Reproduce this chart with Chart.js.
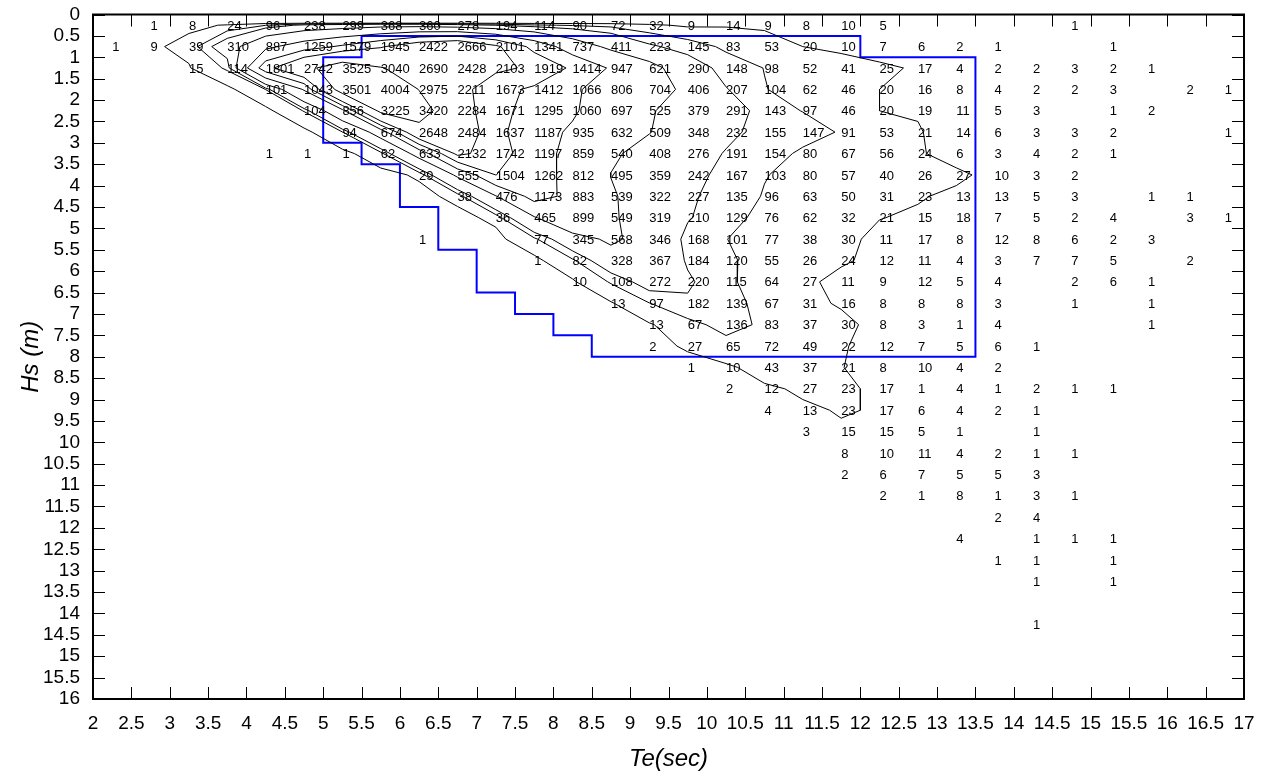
<!DOCTYPE html>
<html>
<head>
<meta charset="utf-8">
<script src="https://cdn.jsdelivr.net/npm/chart.js@4.4.1/dist/chart.umd.min.js"></script>
<style>
  html, body { margin: 0; padding: 0; background: #fff; }
  #wrap { width: 1264px; height: 776px; position: relative; }
</style>
</head>
<body>
<div id="wrap"><canvas id="scatterDiagram"></canvas></div>
<script>
// Energy period classes (Te, s): centre of each 0.5 s bin
const teCentres = [2.25, 2.75, 3.25, 3.75, 4.25, 4.75, 5.25, 5.75, 6.25, 6.75,
                   7.25, 7.75, 8.25, 8.75, 9.25, 9.75, 10.25, 10.75, 11.25, 11.75,
                   12.25, 12.75, 13.25, 13.75, 14.25, 14.75, 15.25, 15.75, 16.25, 16.75];

// Significant wave height classes (Hs, m): centre of each 0.5 m bin
const hsCentres = [0.25, 0.75, 1.25, 1.75, 2.25, 2.75, 3.25, 3.75, 4.25, 4.75,
                   5.25, 5.75, 6.25, 6.75, 7.25, 7.75, 8.25, 8.75, 9.25, 9.75,
                   10.25, 10.75, 11.25, 11.75, 12.25, 12.75, 13.25, 13.75, 14.25];

// Number of sea states per (Hs, Te) bin; one row per Hs class, 0 = no occurrence
const counts = [
  [0,1,8,24,96,238,299,368,360,278, 194,114,90,72,32,9,14,9,8,10, 5,0,0,0,0,1,0,0,0,0],
  [1,9,39,310,887,1259,1579,1945,2422,2666, 2101,1341,737,411,223,145,83,53,20,10, 7,6,2,1,0,0,1,0,0,0],
  [0,0,15,114,1801,2742,3525,3040,2690,2428, 2103,1919,1414,947,621,290,148,98,52,41, 25,17,4,2,2,3,2,1,0,0],
  [0,0,0,0,101,1043,3501,4004,2975,2211, 1673,1412,1066,806,704,406,207,104,62,46, 20,16,8,4,2,2,3,0,2,1],
  [0,0,0,0,0,104,856,3225,3420,2284, 1671,1295,1060,697,525,379,291,143,97,46, 20,19,11,5,3,0,1,2,0,0],
  [0,0,0,0,0,0,94,674,2648,2484, 1637,1187,935,632,509,348,232,155,147,91, 53,21,14,6,3,3,2,0,0,1],
  [0,0,0,0,1,1,1,62,633,2132, 1742,1197,859,540,408,276,191,154,80,67, 56,24,6,3,4,2,1,0,0,0],
  [0,0,0,0,0,0,0,0,29,555, 1504,1262,812,495,359,242,167,103,80,57, 40,26,27,10,3,2,0,0,0,0],
  [0,0,0,0,0,0,0,0,0,38, 476,1173,883,539,322,227,135,96,63,50, 31,23,13,13,5,3,0,1,1,0],
  [0,0,0,0,0,0,0,0,0,0, 36,465,899,549,319,210,129,76,62,32, 21,15,18,7,5,2,4,0,3,1],
  [0,0,0,0,0,0,0,0,1,0, 0,77,345,568,346,168,101,77,38,30, 11,17,8,12,8,6,2,3,0,0],
  [0,0,0,0,0,0,0,0,0,0, 0,1,82,328,367,184,120,55,26,24, 12,11,4,3,7,7,5,0,2,0],
  [0,0,0,0,0,0,0,0,0,0, 0,0,10,108,272,220,115,64,27,11, 9,12,5,4,0,2,6,1,0,0],
  [0,0,0,0,0,0,0,0,0,0, 0,0,0,13,97,182,139,67,31,16, 8,8,8,3,0,1,0,1,0,0],
  [0,0,0,0,0,0,0,0,0,0, 0,0,0,0,13,67,136,83,37,30, 8,3,1,4,0,0,0,1,0,0],
  [0,0,0,0,0,0,0,0,0,0, 0,0,0,0,2,27,65,72,49,22, 12,7,5,6,1,0,0,0,0,0],
  [0,0,0,0,0,0,0,0,0,0, 0,0,0,0,0,1,10,43,37,21, 8,10,4,2,0,0,0,0,0,0],
  [0,0,0,0,0,0,0,0,0,0, 0,0,0,0,0,0,2,12,27,23, 17,1,4,1,2,1,1,0,0,0],
  [0,0,0,0,0,0,0,0,0,0, 0,0,0,0,0,0,0,4,13,23, 17,6,4,2,1,0,0,0,0,0],
  [0,0,0,0,0,0,0,0,0,0, 0,0,0,0,0,0,0,0,3,15, 15,5,1,0,1,0,0,0,0,0],
  [0,0,0,0,0,0,0,0,0,0, 0,0,0,0,0,0,0,0,0,8, 10,11,4,2,1,1,0,0,0,0],
  [0,0,0,0,0,0,0,0,0,0, 0,0,0,0,0,0,0,0,0,2, 6,7,5,5,3,0,0,0,0,0],
  [0,0,0,0,0,0,0,0,0,0, 0,0,0,0,0,0,0,0,0,0, 2,1,8,1,3,1,0,0,0,0],
  [0,0,0,0,0,0,0,0,0,0, 0,0,0,0,0,0,0,0,0,0, 0,0,0,2,4,0,0,0,0,0],
  [0,0,0,0,0,0,0,0,0,0, 0,0,0,0,0,0,0,0,0,0, 0,0,4,0,1,1,1,0,0,0],
  [0,0,0,0,0,0,0,0,0,0, 0,0,0,0,0,0,0,0,0,0, 0,0,0,1,1,0,1,0,0,0],
  [0,0,0,0,0,0,0,0,0,0, 0,0,0,0,0,0,0,0,0,0, 0,0,0,0,1,0,1,0,0,0],
  [0,0,0,0,0,0,0,0,0,0, 0,0,0,0,0,0,0,0,0,0, 0,0,0,0,0,0,0,0,0,0],
  [0,0,0,0,0,0,0,0,0,0, 0,0,0,0,0,0,0,0,0,0, 0,0,0,0,1,0,0,0,0,0]
];

// Iso-occurrence levels traced over the table
const contourLevels = [20, 100, 200, 500, 1000, 1500, 2000, 3000];

// Selected design region (Te, Hs corners of the outline)
const boundaryTe = [5.5, 12, 12, 13.5, 13.5, 8.5, 8.5, 8, 8, 7.5, 7.5, 7, 7, 6.5, 6.5, 6, 6, 5.5, 5.5, 5, 5, 5.5, 5.5];
const boundaryHs = [0.5, 0.5, 1, 1, 8, 8, 7.5, 7.5, 7, 7, 6.5, 6.5, 5.5, 5.5, 4.5, 4.5, 3.5, 3.5, 3, 3, 1, 1, 0.5];

// Axis ranges
const teRange = [2, 17];
const hsRange = [0, 16];
const tickStep = 0.5;

const FONT = "'Liberation Sans', Arial, Helvetica, sans-serif";
const tickText = (v) => String(Math.round(v * 10) / 10);

// ---- marching squares over the bin centres ----
function traceContours(level) {
  // a zero row just above the first Hs class closes the contours along the top edge
  const ys = [hsCentres[0] - 0.05].concat(hsCentres);
  const grid = [teCentres.map(() => 0)].concat(counts);
  const nr = grid.length, nc = teCentres.length;
  const segs = [];
  const frac = (va, vb) => (level - va) / (vb - va);
  for (let r = 0; r < nr - 1; r++) {
    for (let c = 0; c < nc - 1; c++) {
      const tl = grid[r][c], tr = grid[r][c + 1], br = grid[r + 1][c + 1], bl = grid[r + 1][c];
      const idx = (tl >= level ? 8 : 0) | (tr >= level ? 4 : 0) | (br >= level ? 2 : 0) | (bl >= level ? 1 : 0);
      if (idx === 0 || idx === 15) continue;
      const x0 = teCentres[c], x1 = teCentres[c + 1], y0 = ys[r], y1 = ys[r + 1];
      const T = () => ({ key: 'h' + r + '_' + c, x: x0 + (x1 - x0) * frac(tl, tr), y: y0 });
      const B = () => ({ key: 'h' + (r + 1) + '_' + c, x: x0 + (x1 - x0) * frac(bl, br), y: y1 });
      const L = () => ({ key: 'v' + r + '_' + c, x: x0, y: y0 + (y1 - y0) * frac(tl, bl) });
      const R = () => ({ key: 'v' + r + '_' + (c + 1), x: x1, y: y0 + (y1 - y0) * frac(tr, br) });
      const centreHigh = (tl + tr + br + bl) / 4 >= level;
      switch (idx) {
        case 1: case 14: segs.push([L(), B()]); break;
        case 2: case 13: segs.push([B(), R()]); break;
        case 3: case 12: segs.push([L(), R()]); break;
        case 4: case 11: segs.push([T(), R()]); break;
        case 6: case 9: segs.push([T(), B()]); break;
        case 7: case 8: segs.push([L(), T()]); break;
        case 5:
          if (centreHigh) { segs.push([L(), T()]); segs.push([B(), R()]); }
          else { segs.push([T(), R()]); segs.push([L(), B()]); }
          break;
        case 10:
          if (centreHigh) { segs.push([T(), R()]); segs.push([L(), B()]); }
          else { segs.push([L(), T()]); segs.push([B(), R()]); }
          break;
      }
    }
  }
  // join the cell segments into polylines through shared edge crossings
  const byKey = new Map();
  segs.forEach((s, i) => s.forEach(p => {
    if (!byKey.has(p.key)) byKey.set(p.key, []);
    byKey.get(p.key).push(i);
  }));
  const used = new Array(segs.length).fill(false);
  const nextFrom = (key) => {
    const list = byKey.get(key) || [];
    for (const j of list) if (!used[j]) return j;
    return -1;
  };
  const lines = [];
  for (let i = 0; i < segs.length; i++) {
    if (used[i]) continue;
    used[i] = true;
    const chain = [segs[i][0], segs[i][1]];
    let j;
    while ((j = nextFrom(chain[chain.length - 1].key)) >= 0) {
      used[j] = true;
      const s = segs[j];
      chain.push(s[0].key === chain[chain.length - 1].key ? s[1] : s[0]);
    }
    while ((j = nextFrom(chain[0].key)) >= 0) {
      used[j] = true;
      const s = segs[j];
      chain.unshift(s[0].key === chain[0].key ? s[1] : s[0]);
    }
    lines.push(chain.map(p => ({ x: p.x, y: p.y })));
  }
  return lines;
}

const datasets = [];
contourLevels.forEach(level => {
  traceContours(level).forEach(poly => {
    datasets.push({
      label: 'level ' + level,
      data: poly,
      showLine: true,
      borderColor: '#000',
      borderWidth: 1,
      pointRadius: 0,
      tension: 0,
      fill: false
    });
  });
});
datasets.push({
  label: 'design region',
  data: boundaryTe.map((t, i) => ({ x: t, y: boundaryHs[i] })),
  showLine: true,
  borderColor: '#0000ff',
  borderWidth: 2,
  pointRadius: 0,
  tension: 0,
  fill: false
});

// bin counts written at each bin centre
const countLabels = {
  id: 'countLabels',
  afterDatasetsDraw(chart) {
    const { ctx, scales: { x, y } } = chart;
    ctx.save();
    ctx.font = '13px ' + FONT;
    ctx.fillStyle = '#000';
    ctx.textAlign = 'left';
    ctx.textBaseline = 'middle';
    counts.forEach((row, r) => row.forEach((v, c) => {
      if (!v) return;
      ctx.fillText(String(v), x.getPixelForValue(teCentres[c]), y.getPixelForValue(hsCentres[r]) + 1);
    }));
    ctx.restore();
  }
};

// box frame with inward tick marks on all four sides
const frameTicks = {
  id: 'frameTicks',
  afterDraw(chart) {
    const { ctx, chartArea: a, scales: { x, y } } = chart;
    const len = 12;
    ctx.save();
    ctx.strokeStyle = '#000';
    ctx.lineWidth = 1;
    ctx.beginPath();
    x.ticks.forEach((t, i) => {
      const px = Math.round(x.getPixelForTick(i)) + 0.5;
      ctx.moveTo(px, a.bottom); ctx.lineTo(px, a.bottom - len);
      ctx.moveTo(px, a.top); ctx.lineTo(px, a.top + len);
    });
    y.ticks.forEach((t, i) => {
      const py = Math.round(y.getPixelForTick(i)) + 0.5;
      ctx.moveTo(a.left, py); ctx.lineTo(a.left + len, py);
      ctx.moveTo(a.right, py); ctx.lineTo(a.right - len, py);
    });
    ctx.stroke();
    ctx.lineWidth = 2;
    ctx.strokeRect(a.left, a.top, a.right - a.left, a.bottom - a.top);
    ctx.restore();
  }
};

new Chart(document.getElementById('scatterDiagram'), {
  type: 'scatter',
  data: { datasets },
  options: {
    responsive: true,
    maintainAspectRatio: false,
    animation: false,
    events: [],
    layout: { padding: { top: 14.5, right: 20, left: 0, bottom: 0 } },
    plugins: { legend: { display: false }, tooltip: { enabled: false } },
    scales: {
      x: {
        type: 'linear',
        min: teRange[0], max: teRange[1],
        grid: { display: false, drawTicks: false },
        border: { display: false },
        ticks: {
          stepSize: tickStep, autoSkip: false, maxRotation: 0, minRotation: 0,
          padding: 13, color: '#000', font: { family: FONT, size: 19 },
          callback: tickText
        },
        title: {
          display: true, text: 'Te(sec)', color: '#000',
          font: { family: FONT, size: 24, style: 'italic' },
          padding: { top: 0, bottom: 2 }
        },
        afterFit(scale) { scale.height = 77; scale.paddingLeft = 0; scale.paddingRight = 0; }
      },
      y: {
        type: 'linear',
        reverse: true,
        min: hsRange[0], max: hsRange[1],
        grid: { display: false, drawTicks: false },
        border: { display: false },
        ticks: {
          stepSize: tickStep, autoSkip: false,
          padding: 13, color: '#000', font: { family: FONT, size: 19 },
          callback: tickText
        },
        title: {
          display: true, text: 'Hs (m)', color: '#000',
          font: { family: FONT, size: 24, style: 'italic' },
          padding: { top: 17, bottom: 0 }
        },
        afterFit(scale) { scale.width = 93; scale.paddingTop = 0; scale.paddingBottom = 0; }
      }
    }
  },
  plugins: [countLabels, frameTicks]
});
</script>
</body>
</html>
